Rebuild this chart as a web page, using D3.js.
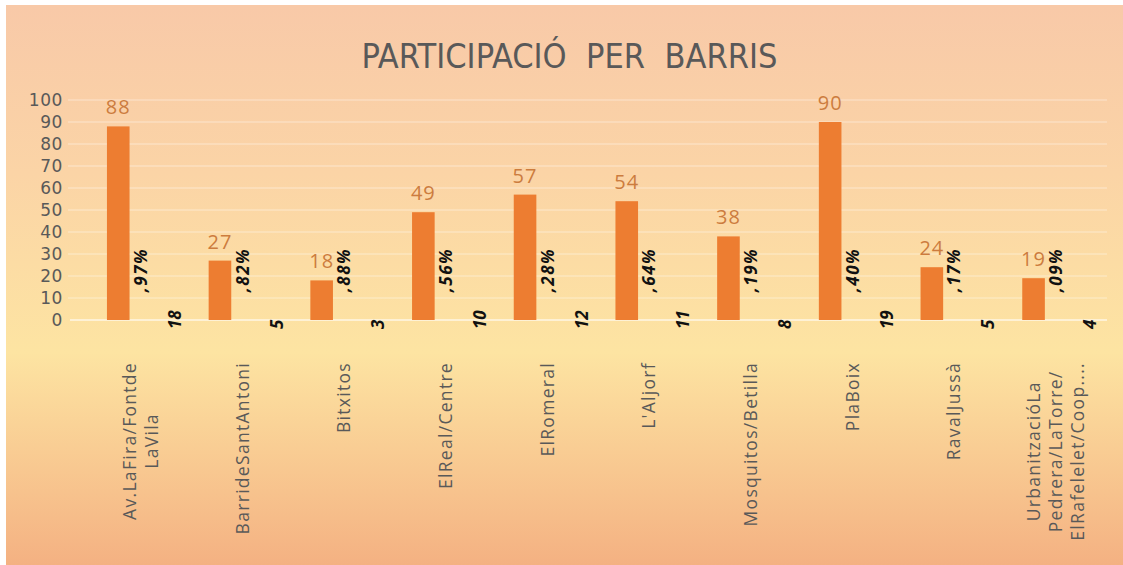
<!DOCTYPE html>
<html>
<head>
<meta charset="utf-8">
<script src="https://cdn.jsdelivr.net/npm/d3@7"></script>
<style>
  html, body { margin: 0; padding: 0; background: #fff; }
  svg { display: block; }
</style>
</head>
<body>
<div id="main-container"></div>
<script>
// Data
const CATEGORIES = [
    ['Av.LaFira/Fontde', 'LaVila'],
    ['BarrideSantAntoni'],
    ['Bitxitos'],
    ['ElReal/Centre'],
    ['ElRomeral'],
    ["L'Aljorf"],
    ['Mosquitos/Betilla'],
    ['PlaBoix'],
    ['RavalJussà'],
    ['UrbanitzacióLa', 'Pedrera/LaTorre/', 'ElRafelelet/Coop....']
];
const PARTICIPANTS = [88, 27, 18, 49, 57, 54, 38, 90, 24, 19];
const PERCENTS = [18.97, 5.82, 3.88, 10.56, 12.28, 11.64, 8.19, 19.40, 5.17, 4.09];
const Y_TICKS = [0, 10, 20, 30, 40, 50, 60, 70, 80, 90, 100];
const TITLE = 'PARTICIPACIÓ  PER  BARRIS';

const WIDTH = 1123, HEIGHT = 565;
const PLOT = { left: 90, right: 1107, top: 100, bottom: 320 };
const BAR_COLOR = '#ed7d31';
const TEXT_GRAY = '#595959';

const SVG = d3.select('#main-container').append('svg')
    .attr('width', WIDTH)
    .attr('height', HEIGHT);

// Background gradient
const defs = SVG.append('defs');
const grad = defs.append('linearGradient')
    .attr('id', 'bg').attr('x1', 0).attr('y1', 0).attr('x2', 0).attr('y2', 1);
grad.append('stop').attr('offset', '0%').attr('stop-color', '#f8c9a8');
grad.append('stop').attr('offset', '30%').attr('stop-color', '#fbd4a6');
grad.append('stop').attr('offset', '62%').attr('stop-color', '#fde4a2');
grad.append('stop').attr('offset', '100%').attr('stop-color', '#f4b182');

SVG.append('rect')
    .attr('x', 6).attr('y', 5)
    .attr('width', WIDTH - 6).attr('height', HEIGHT - 5)
    .attr('fill', 'url(#bg)');

// Scales
const X_SCALE = d3.scaleBand()
    .domain(d3.range(CATEGORIES.length))
    .range([PLOT.left, PLOT.right]);
const BW = X_SCALE.bandwidth();
const BAR_W = BW / 4.5;          // 3 series + 150% gap
const GAP = BW * 1.5 / 4.5;
const slotX = (i, s) => X_SCALE(i) + GAP / 2 + s * BAR_W;

const Y_SCALE = d3.scaleLinear().domain([0, 100]).range([PLOT.bottom, PLOT.top]);

// Gridlines
SVG.append('g').selectAll('line')
    .data(Y_TICKS.filter(d => d > 0)).enter()
    .append('line')
    .attr('x1', 68).attr('x2', PLOT.right)
    .attr('y1', d => Y_SCALE(d)).attr('y2', d => Y_SCALE(d))
    .attr('stroke', '#fff').attr('stroke-opacity', 0.3).attr('stroke-width', 1.5);

// Y axis
const Y_AXIS = d3.axisLeft(Y_SCALE).tickValues(Y_TICKS).tickSize(0).tickPadding(0);
const yAxisG = SVG.append('g')
    .attr('transform', `translate(${63}, 0)`)
    .call(Y_AXIS);
yAxisG.select('.domain').remove();
yAxisG.selectAll('text')
    .attr('fill', TEXT_GRAY)
    .style('font-family', '"DejaVu Sans", sans-serif')
    .style('font-size', '17px')
    .style('letter-spacing', '0.6px');

// Category axis line
SVG.append('line')
    .attr('x1', PLOT.left - 20).attr('x2', PLOT.right)
    .attr('y1', Y_SCALE(0)).attr('y2', Y_SCALE(0))
    .attr('stroke', '#fff').attr('stroke-opacity', 0.55).attr('stroke-width', 2);

// Bars
SVG.append('g').selectAll('rect')
    .data(PARTICIPANTS).enter()
    .append('rect')
    .attr('x', (d, i) => slotX(i, 0))
    .attr('y', d => Y_SCALE(d))
    .attr('width', BAR_W)
    .attr('height', d => Y_SCALE(0) - Y_SCALE(d))
    .attr('fill', BAR_COLOR);

// Value labels
SVG.append('g').selectAll('text')
    .data(PARTICIPANTS).enter()
    .append('text')
    .attr('x', (d, i) => slotX(i, 0) + BAR_W / 2)
    .attr('y', d => Y_SCALE(d) - 12)
    .attr('text-anchor', 'middle')
    .attr('fill', '#cc7c3e')
    .style('font-family', '"Open Sans", sans-serif')
    .style('font-size', '20px')
    .style('letter-spacing', '1px')
    .text(d => d);

// Percent labels (wrapped in two pieces, rotated)
const pctParts = PERCENTS.map(p => {
    const [a, b] = p.toFixed(2).split('.');
    return { int: a, frac: ',' + b + '%' };
});
const pctG = SVG.append('g')
    .style('font-family', '"Open Sans", sans-serif')
    .style('font-size', '17px')
    .style('font-weight', 'bold')
    .style('font-style', 'italic')
    .attr('fill', '#111');
pctG.selectAll('text.frac')
    .data(pctParts).enter()
    .append('text')
    .attr('class', 'frac')
    .attr('transform', (d, i) => `translate(${slotX(i, 1) + BAR_W / 2 + 6}, ${270}) rotate(-90)`)
    .attr('text-anchor', 'middle')
    .style('letter-spacing', '1.5px')
    .text(d => d.frac);
pctG.selectAll('text.int')
    .data(pctParts).enter()
    .append('text')
    .attr('class', 'int')
    .attr('transform', (d, i) => `translate(${slotX(i, 1) + BAR_W / 2 + 40}, ${329}) rotate(-90)`)
    .attr('text-anchor', 'start')
    .text(d => d.int);

// Category labels
const LABEL_TOP = 362;
const LINE_H = 22;
const catG = SVG.append('g')
    .attr('fill', TEXT_GRAY)
    .style('font-family', '"Open Sans", sans-serif')
    .style('font-size', '17.5px')
    .style('letter-spacing', '1.3px');
CATEGORIES.forEach((lines, i) => {
    const cx = X_SCALE(i) + BW / 2;
    const g = catG.append('g');
    const texts = lines.map((line, j) => g.append('text')
        .attr('text-anchor', 'middle')
        .text(line));
    const maxLen = d3.max(texts, t => t.node().getComputedTextLength());
    const cy = LABEL_TOP + maxLen / 2;
    texts.forEach((t, j) => {
        const lx = cx + (j - (lines.length - 1) / 2) * LINE_H + 6;
        t.attr('transform', `translate(${lx}, ${cy}) rotate(-90)`);
    });
});

// Title
SVG.append('text')
    .attr('x', (361 + 778) / 2)
    .attr('y', 68)
    .attr('text-anchor', 'middle')
    .attr('fill', TEXT_GRAY)
    .style('font-family', '"Liberation Sans Narrow", "DejaVu Sans Condensed", sans-serif')
    .style('font-size', '34px')
    .style('white-space', 'pre')
    .text(TITLE);
</script>
</body>
</html>
